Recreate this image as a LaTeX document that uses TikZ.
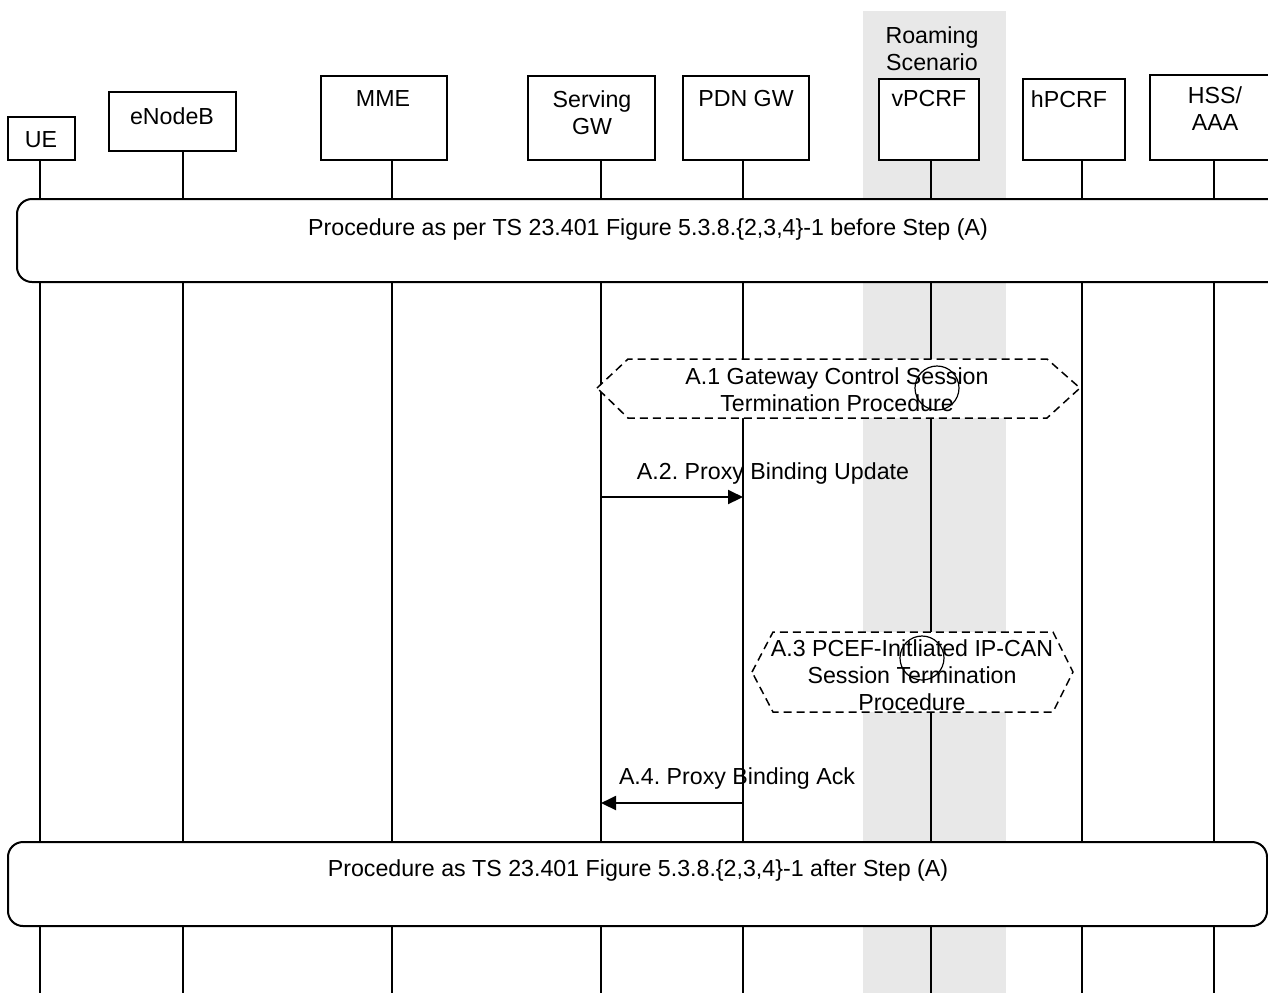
\documentclass[tikz,border=0pt]{standalone}
\usepackage{fontspec}
\setmainfont{Liberation Sans}
\usetikzlibrary{arrows.meta}
\usetikzlibrary{calc}

\definecolor{roamgray}{RGB}{232,232,232}
\frenchspacing

\tikzset{
    entity/.style = {draw, line width=1pt, fill=white, inner sep=0pt},
    lifeline/.style = {line width=1pt},
    procbox/.style = {draw, line width=1pt, fill=white, rounded corners=7.5pt, inner sep=0pt},
    hexbox/.style = {draw, line width=0.75pt, dash pattern=on 4pt off 2.5pt, fill=white},
    msg/.style = {line width=1pt, -{Triangle[length=7.5pt,width=7pt]}},
    lbl/.style = {align=center, inner sep=0pt, font=\fontsize{11.6}{13.5}\selectfont},
    mark circle/.style = {line width=0.6pt}
}

\begin{document}
\begin{tikzpicture}[x=0.5pt, y=-0.5pt]
            \useasboundingbox (0,0) rectangle (1268,993);
            \clip (0,0) rectangle (1268,993);

            % roaming band
            \fill[roamgray] (863,11) rectangle (1006,993);
            \node[lbl] (roam) at (932,49) {Roaming\\Scenario};

            % lifelines
            \foreach \x in {40,183,392,601,743,931,1082,1214}
                \draw[lifeline] (\x,140) -- (\x,993);

            % entities
            \node[entity, minimum width=33.5pt, minimum height=21.5pt] (ue) at (41.5,138.5) {};
            \node[entity, minimum width=63.5pt, minimum height=29.5pt] (enb) at (172.5,121.5) {};
            \node[entity, minimum width=63pt, minimum height=42pt] (mme) at (384,118) {};
            \node[entity, minimum width=63.5pt, minimum height=42pt] (sgw) at (591.5,118) {};
            \node[entity, minimum width=63pt, minimum height=42pt] (pgw) at (746,118) {};
            \node[entity, minimum width=50pt, minimum height=40.5pt] (vpcrf) at (929,119.5) {};
            \node[entity, minimum width=51pt, minimum height=40.5pt] (hpcrf) at (1074,119.5) {};
            \node[entity, minimum width=65pt, minimum height=42.5pt] (hss) at (1215,117.5) {};

            \node[lbl] (ue-t) at (41,140) {UE};
            \node[lbl] (enb-t) at (172,116) {eNodeB};
            \node[lbl] (mme-t) at (383,98.5) {MME};
            \node[lbl] (sgw-t) at (592,112.5) {Serving\\GW};
            \node[lbl] (pgw-t) at (746,99) {PDN GW};
            \node[lbl] (vpcrf-t) at (929,99) {vPCRF};
            \node[lbl] (hpcrf-t) at (1069,99) {hPCRF};
            \node[lbl] (hss-t) at (1215,109) {HSS/\\AAA};

            % procedure before step A
            \node[procbox, minimum width=636.5pt, minimum height=41.5pt] (before) at (653.5,240.5) {};
            \node[lbl] (before-t) at (648,229) {Procedure as per TS 23.401 Figure 5.3.8.\{2,3,4\}-1 before Step (A)};

            % A.1
            \draw[hexbox] (597,388) -- (628,359) -- (1047,359) -- (1080,388) -- (1047,418) -- (628,418) -- cycle;
            \node[lbl] (a1) at (837,390) {A.1 Gateway Control Session\\Termination Procedure};
            \draw[mark circle] (937,388) circle (11pt);

            % A.2
            \coordinate (a2-s) at (601,497);
            \coordinate (a2-e) at (743,497);
            \draw[msg] (a2-s) -- (a2-e);
            \node[lbl] (a2) at (773,473) {A.2. Proxy Binding Update};

            % A.3
            \draw[hexbox] (752,672) -- (773,632) -- (1053,632) -- (1073,672) -- (1053,712) -- (773,712) -- cycle;
            \node[lbl] (a3) at (912,675) {A.3 PCEF-Initliated IP-CAN\\Session Termination\\Procedure};
            \draw[mark circle] (922,658) circle (11pt);

            % A.4
            \coordinate (a4-s) at (743,803);
            \coordinate (a4-e) at (601,803);
            \draw[msg] (a4-s) -- (a4-e);
            \node[lbl] (a4) at (737,778) {A.4. Proxy Binding Ack};

            % procedure after step A
            \node[procbox, minimum width=629.5pt, minimum height=42pt] (after) at (637.5,884) {};
            \node[lbl] (after-t) at (638,870) {Procedure as TS 23.401 Figure 5.3.8.\{2,3,4\}-1 after Step (A)};
        \end{tikzpicture}
\end{document}
